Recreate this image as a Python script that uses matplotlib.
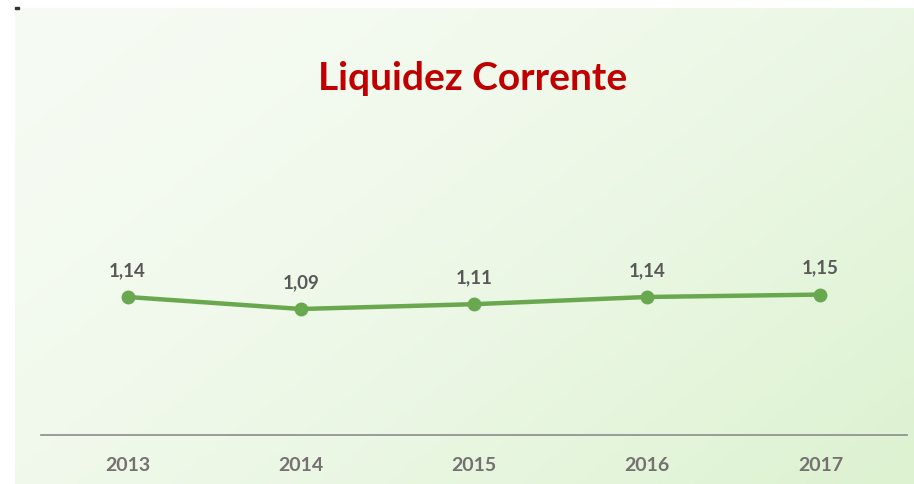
import numpy as np
import matplotlib
matplotlib.use("Agg")
import matplotlib.pyplot as plt

# chart data
anos = ["2013", "2014", "2015", "2016", "2017"]
liquidez = [1.14, 1.09, 1.11, 1.14, 1.15]
rotulos = ["1,14", "1,09", "1,11", "1,14", "1,15"]

W, H = 914, 484
fig = plt.figure(figsize=(W / 100, H / 100), dpi=100)
fig.patch.set_facecolor("white")

# gradient background panel (light to green towards bottom-right)
bg = fig.add_axes([15 / W, 0, 1 - 15 / W, 1 - 8 / H])
bg.set_axis_off()
nx, ny = 200, 100
gx, gy = np.meshgrid(np.linspace(0, 1, nx), np.linspace(0, 1, ny))
t = np.clip(0.6 * gx + 0.4 * gy, 0, 1) ** 1.6
c0 = np.array([246, 251, 243]) / 255
c1 = np.array([220, 242, 208]) / 255
img = c0[None, None, :] * (1 - t[..., None]) + c1[None, None, :] * t[..., None]
bg.imshow(img, aspect="auto", extent=[0, 1, 0, 1], origin="upper")
bg.set_xlim(0, 1)
bg.set_ylim(0, 1)

# tiny mark at top-left corner
fig.patches.append(plt.Rectangle((15 / W, 1 - 9 / H), 4 / W, 2 / H,
                                 transform=fig.transFigure, color="#333333"))

ax = fig.add_axes([41 / W, 1 - 435 / H, 866 / W, 325 / H])
ax.set_facecolor("none")
x = np.arange(len(anos))
ax.plot(x, liquidez, color="#6AA84F", lw=3.2, marker="o", ms=9,
        solid_capstyle="round", zorder=3)
for xi, yi, r in zip(x, liquidez, rotulos):
    ax.annotate(r, (xi, yi), xytext=(0, 19), textcoords="offset points",
                ha="center", va="center", fontsize=13.5, fontweight="bold",
                color="#595959", family="Lato")

ax.set_xlim(-0.5, 4.5)
ax.set_ylim(0.565, 1.919)
ax.set_xticks(x)
ax.set_xticklabels(anos, fontsize=14, fontweight="bold", color="#767171",
                   family="Lato")
ax.tick_params(axis="x", length=0, pad=15.5)
ax.set_yticks([])
for s in ["top", "left", "right"]:
    ax.spines[s].set_visible(False)
ax.spines["bottom"].set_color("#8C8C8C")
ax.spines["bottom"].set_linewidth(1.2)

fig.text(473 / W, 1 - 78 / H, "Liquidez Corrente", ha="center", va="center",
         fontsize=28, fontweight="bold", color="#C00000", family="Lato")

fig.savefig("out.png", dpi=100)
